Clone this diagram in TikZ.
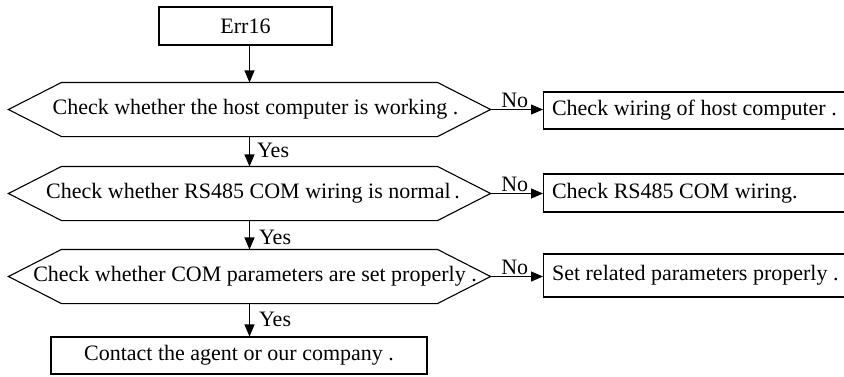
\documentclass[tikz,border=0pt]{standalone}
\usepackage{fontspec}
\setmainfont{Liberation Serif}
\usetikzlibrary{arrows.meta,calc}
\begin{document}
\begin{tikzpicture}[x=1pt,y=-1pt,
  line width=1.1pt,
  font=\fontsize{22}{26}\selectfont,
  hexa/.style={minimum width=375pt, minimum height=53pt, inner sep=0pt, draw=none},
  box/.style={draw, inner sep=0pt},
  rbox/.style={draw, inner xsep=8.5pt, inner ysep=0pt, anchor=west},
  arr/.style={-{Triangle[length=12pt,width=10pt]}},
  lab/.style={inner sep=1pt}
]
\useasboundingbox (0,0) rectangle (844,376);
% start
\node[box, minimum width=173pt, minimum height=38pt] (e) at (245.5,26) {Err16};
% decisions
\node[hexa] (d1) at (249.5,109.5) {\makebox[0pt]{\hspace{12pt}Check whether the host computer is working .}};
\node[hexa] (d2) at (249.5,193.5) {\makebox[0pt]{\hspace{7pt}Check whether RS485 COM wiring is normal\,.}};
\node[hexa] (d3) at (249.5,276.5) {\makebox[0pt]{\hspace{11pt}Check whether COM parameters are set properly .}};
\foreach \d in {d1,d2,d3}{
  \draw (\d.north west) -- (\d.north east) -- ([xshift=53pt]\d.east) -- (\d.south east)
        -- (\d.south west) -- ([xshift=-53pt]\d.west) -- cycle;
  \coordinate (\d r) at ([xshift=53pt]\d.east);
}
% right boxes (their right side lies past the picture's edge)
\node[rbox, minimum height=37pt] (b1) at (543,110.5) {\makebox[290pt][l]{Check wiring of host computer .}};
\node[rbox, minimum height=38pt] (b2) at (543,193) {\makebox[290pt][l]{Check RS485 COM wiring.}};
\node[rbox, minimum height=43pt] (b3) at (543,275.5) {\makebox[290pt][l]{Set related parameters properly .}};
% final
\node[box, minimum width=376pt, minimum height=37pt] (f) at (239,355.5) {Contact the agent or our company .};
% connectors
\draw[arr] (e.south -| d1.north) -- (d1.north);
\draw[arr] (d1.south) -- node[lab, anchor=west, xshift=6pt, yshift=1pt] {Yes} (d2.north);
\draw[arr] (d2.south) -- node[lab, anchor=west, xshift=8pt, yshift=-2pt] {Yes} (d3.north);
\draw[arr] (d3.south) -- node[lab, anchor=west, xshift=8pt, yshift=1pt] {Yes} (d3.south |- f.north);
\draw[arr] (d1r) -- node[lab, above, xshift=-2pt] {No} (d1r -| b1.west);
\draw[arr] (d2r) -- node[lab, above, xshift=-2pt] {No} (d2r -| b2.west);
\draw[arr] (d3r) -- node[lab, above, xshift=-2pt] {No} (d3r -| b3.west);
\end{tikzpicture}
\end{document}
